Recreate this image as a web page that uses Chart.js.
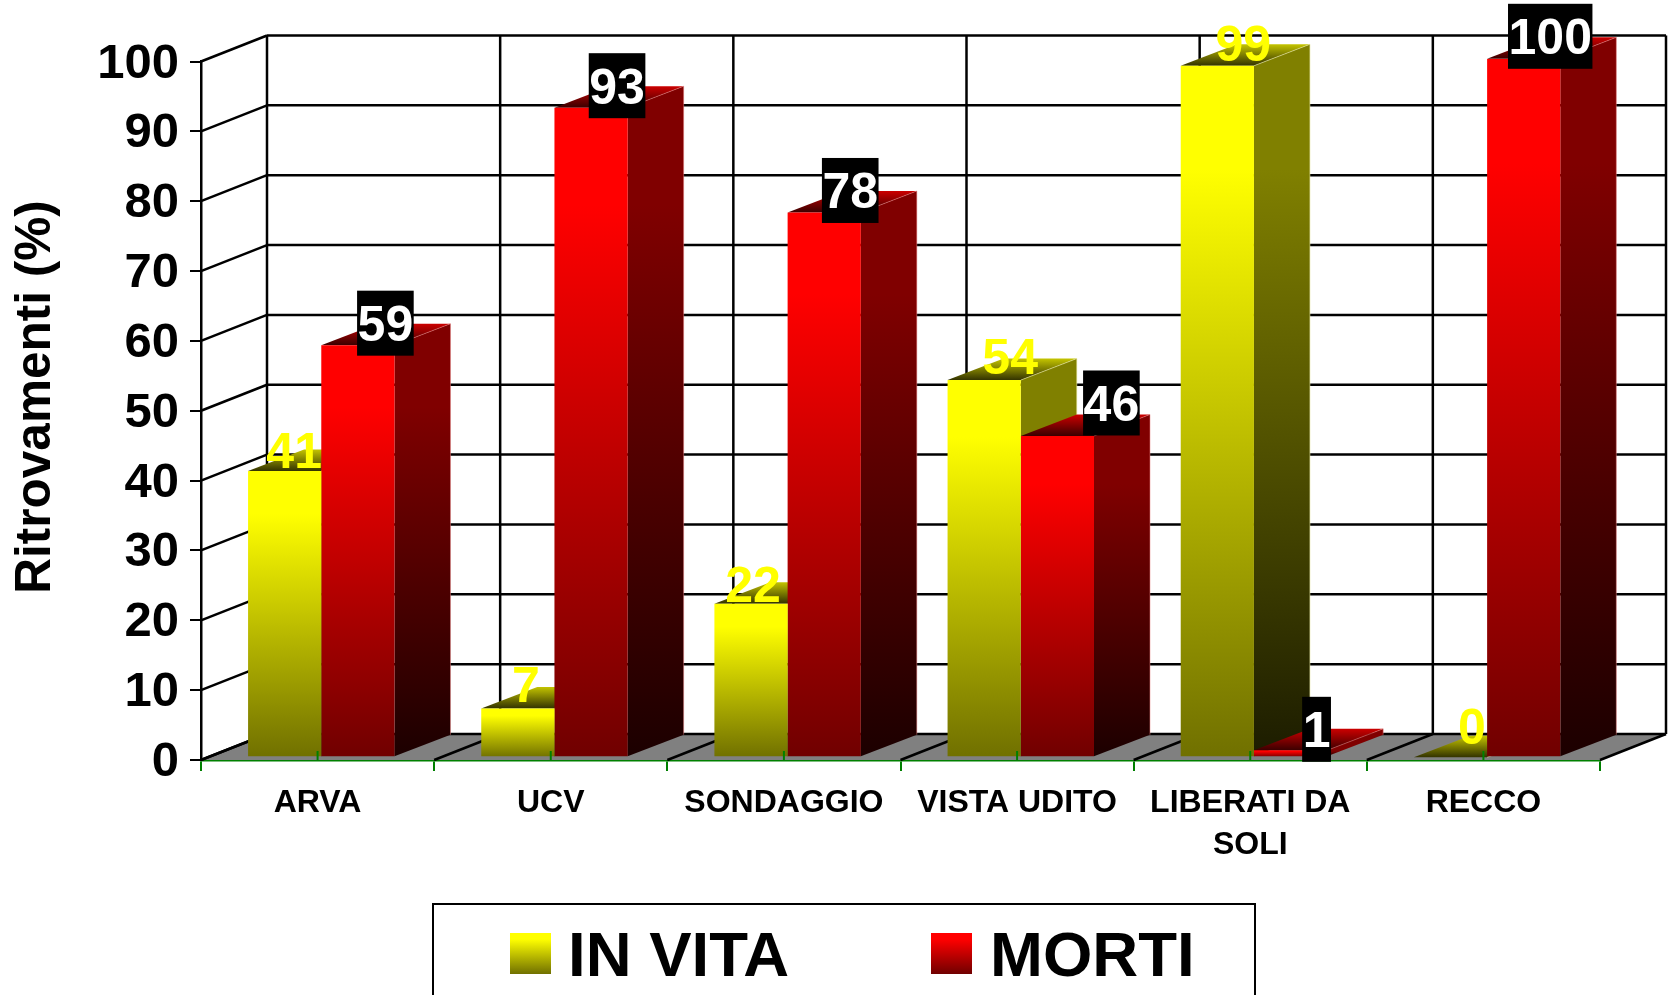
<!DOCTYPE html>
<html lang="it">
<head>
  <meta charset="UTF-8">
  <title>Ritrovamenti</title>
  <script src="https://cdn.jsdelivr.net/npm/chart.js@4.4.0/dist/chart.umd.min.js"></script>
  <style>
    html, body { margin: 0; padding: 0; background: #fff; }
    canvas { display: block; }
  </style>
</head>
<body>
<canvas id="grafico" width="1671" height="995"></canvas>

<script>
  // Dati
  const categorie = ['ARVA', 'UCV', 'SONDAGGIO', 'VISTA UDITO', ['LIBERATI DA', 'SOLI'], 'RECCO'];
  const nomiSerie = ['IN VITA', 'MORTI'];
  const inVita = [41, 7, 22, 54, 99, 0];
  const morti = [59, 93, 78, 46, 1, 100];

  // Spostamento delle etichette rispetto al centro della faccia frontale
  const inVitaEtichettaDx = [9.5, 8, 2, 26, 26, 21.5];
  const inVitaEtichettaDy = [-21, -24, -20, -24, -23, -31.5];
  const mortiEtichettaDx = [27.5, 26, 26, 54, 26, 26.5];
  const mortiEtichettaDy = [-22, -22, -22, -33, -21, -22.5];

  const FONT = '"Liberation Sans", Arial, sans-serif';
  const PARETE_DX = 66, PARETE_DY = 26;   // profondita' delle pareti
  const BARRA_DX = 56, BARRA_DY = 21.5;   // profondita' delle barre
  const SPOSTA_X = 3.7, SPOSTA_Y = -2.7;  // barre staccate dal bordo anteriore

  const colori = [
    { alto: '#ffff00', basso: '#707000', latoAlto: '#808000', latoBasso: '#1c1c00', topDietro: '#c4c400', topDavanti: '#333300', bordo: 'rgba(230,230,160,0.6)' },
    { alto: '#ff0000', basso: '#700000', latoAlto: '#800000', latoBasso: '#1c0000', topDietro: '#cc0000', topDavanti: '#3a0000', bordo: 'rgba(230,130,130,0.5)' }
  ];

  function sfumatura(ctx, y0, y1, c0, c1, fermo) {
    const g = ctx.createLinearGradient(0, y0, 0, y1);
    g.addColorStop(0, c0);
    if (fermo) g.addColorStop(fermo, c0);
    g.addColorStop(1, c1);
    return g;
  }

  function frontale(i) {
    return function (c) {
      if (c.type !== 'data' || !c.chart.chartArea) return colori[i].alto;
      const y = c.chart.scales.y;
      const y0 = y.getPixelForValue(c.raw), y1 = y.getPixelForValue(0);
      if (!isFinite(y0) || !isFinite(y1)) return colori[i].alto;
      return sfumatura(c.chart.ctx, y0, y1, colori[i].alto, colori[i].basso, 0.15);
    };
  }

  function poligono(ctx, punti, riempi) {
    ctx.beginPath();
    punti.forEach((p, i) => i ? ctx.lineTo(p[0], p[1]) : ctx.moveTo(p[0], p[1]));
    ctx.closePath();
    ctx.fillStyle = riempi;
    ctx.fill();
  }

  function linea(ctx, x0, y0, x1, y1) {
    ctx.beginPath();
    ctx.moveTo(x0, y0);
    ctx.lineTo(x1, y1);
    ctx.stroke();
  }

  // Pareti, pavimento e griglia in prospettiva
  const pareti = {
    id: 'pareti',
    beforeDatasetsDraw(chart) {
      const { ctx, scales: { x, y } } = chart;
      const y0 = y.getPixelForValue(0);
      ctx.save();
      poligono(ctx, [[x.left, y0], [x.right, y0], [x.right + PARETE_DX, y0 - PARETE_DY], [x.left + PARETE_DX, y0 - PARETE_DY]], '#808080');
      ctx.strokeStyle = '#000';
      ctx.lineWidth = 2.5;
      y.ticks.forEach(t => {
        const py = y.getPixelForValue(t.value);
        linea(ctx, x.left, py, x.left + PARETE_DX, py - PARETE_DY);
        linea(ctx, x.left + PARETE_DX, py - PARETE_DY, x.right + PARETE_DX, py - PARETE_DY);
      });
      const top = y.getPixelForValue(100);
      for (let i = 0; i <= categorie.length; i++) {
        const px = x.getPixelForValue(i - 0.5);
        linea(ctx, px + PARETE_DX, top - PARETE_DY, px + PARETE_DX, y0 - PARETE_DY);
        linea(ctx, px, y0, px + PARETE_DX, y0 - PARETE_DY);
      }
      ctx.restore();

      // facce laterali e superiori, poi Chart.js disegna quelle frontali
      ctx.save();
      ctx.translate(SPOSTA_X, SPOSTA_Y);
      [0, 1].forEach(d => {
        const col = colori[d];
        chart.getDatasetMeta(d).data.forEach(bar => {
          const xl = bar.x - bar.width / 2, xr = bar.x + bar.width / 2;
          poligono(ctx, [[xr, bar.y], [xr + BARRA_DX, bar.y - BARRA_DY], [xr + BARRA_DX, bar.base - BARRA_DY], [xr, bar.base]],
            sfumatura(ctx, bar.y, bar.base, col.latoAlto, col.latoBasso, 0.15));
          poligono(ctx, [[xl, bar.y], [xr, bar.y], [xr + BARRA_DX, bar.y - BARRA_DY], [xl + BARRA_DX, bar.y - BARRA_DY]],
            sfumatura(ctx, bar.y, bar.y - BARRA_DY, col.topDavanti, col.topDietro));
          // spigolo chiaro della barra
          ctx.strokeStyle = col.bordo;
          ctx.lineWidth = 1;
          ctx.beginPath();
          ctx.moveTo(xr, bar.y);
          ctx.lineTo(xr + BARRA_DX, bar.y - BARRA_DY);
          ctx.lineTo(xr + BARRA_DX, bar.base - BARRA_DY);
          ctx.stroke();
        });
      });
    },
    afterDatasetsDraw(chart) {
      const { ctx } = chart;
      ctx.restore();

      // Etichette dei valori
      ctx.save();
      ctx.font = 'bold 50px ' + FONT;
      ctx.textAlign = 'center';
      ctx.textBaseline = 'alphabetic';
      chart.getDatasetMeta(0).data.forEach((bar, i) => {
        ctx.fillStyle = '#ffff00';
        ctx.fillText(String(inVita[i]), bar.x + SPOSTA_X + inVitaEtichettaDx[i], bar.y + SPOSTA_Y + inVitaEtichettaDy[i] + 18);
      });
      chart.getDatasetMeta(1).data.forEach((bar, i) => {
        const testo = String(morti[i]);
        const cx = bar.x + SPOSTA_X + mortiEtichettaDx[i];
        const cy = bar.y + SPOSTA_Y + mortiEtichettaDy[i];
        const w = ctx.measureText(testo).width + 1;
        ctx.fillStyle = '#000';
        ctx.fillRect(cx - w / 2, cy - 32.5, w, 65);
        ctx.fillStyle = '#fff';
        ctx.fillText(testo, cx, cy + 18);
      });
      ctx.restore();
    },
    afterDraw(chart) {
      const { ctx, scales: { x, y } } = chart;
      // tacche verdi al centro delle categorie
      ctx.save();
      ctx.strokeStyle = '#008000';
      ctx.lineWidth = 2;
      categorie.forEach((c, i) => {
        const px = x.getPixelForValue(i);
        linea(ctx, px, y.bottom - 9, px, y.bottom);
      });

      // titolo dell'asse
      ctx.fillStyle = '#000';
      ctx.font = 'bold 49.5px ' + FONT;
      ctx.textAlign = 'center';
      ctx.textBaseline = 'middle';
      ctx.translate(36, 397);
      ctx.rotate(-Math.PI / 2);
      ctx.fillText('Ritrovamenti (%)', 0, 0);
      ctx.restore();

      // legenda
      ctx.save();
      ctx.strokeStyle = '#000';
      ctx.lineWidth = 2;
      ctx.strokeRect(433, 904, 822, 120);
      ctx.font = 'bold 63.5px ' + FONT;
      ctx.textAlign = 'left';
      ctx.textBaseline = 'alphabetic';
      [[510, 568], [931, 990]].forEach((pos, i) => {
        ctx.fillStyle = sfumatura(ctx, 933, 974, colori[i].alto, colori[i].basso, 0.15);
        ctx.fillRect(pos[0], 933, 41, 41);
        ctx.fillStyle = '#000';
        ctx.fillText(nomiSerie[i], pos[1], 976);
      });
      ctx.restore();
    }
  };

  new Chart(document.getElementById('grafico'), {
    type: 'bar',
    data: {
      labels: categorie,
      datasets: [
        { label: nomiSerie[0], data: inVita, backgroundColor: frontale(0) },
        { label: nomiSerie[1], data: morti, backgroundColor: frontale(1) }
      ]
    },
    options: {
      responsive: false,
      animation: false,
      events: [],
      categoryPercentage: 0.628,
      barPercentage: 1,
      layout: { padding: { top: 61.5, right: 71, left: 0, bottom: 0 } },
      plugins: { legend: { display: false }, tooltip: { enabled: false } },
      scales: {
        x: {
          z: 1,
          afterFit(s) { s.height = 235; },
          grid: { color: '#008000', lineWidth: 2, tickLength: 11, tickColor: '#008000', drawOnChartArea: false },
          border: { color: '#008000', width: 2.5 },
          ticks: {
            color: '#000',
            maxRotation: 0,
            autoSkip: false,
            padding: 11,
            font: { family: FONT, size: 32, weight: 'bold', lineHeight: 1.31 }
          }
        },
        y: {
          min: 0,
          max: 100,
          afterFit(s) { s.width = 201; },
          grid: { color: '#000', lineWidth: 2, tickLength: 11, tickColor: '#000', drawOnChartArea: false },
          border: { color: '#000', width: 2.5 },
          ticks: {
            color: '#000',
            stepSize: 10,
            padding: 11,
            labelOffset: 2.5,
            font: { family: FONT, size: 49, weight: 'bold' }
          }
        }
      }
    },
    plugins: [pareti]
  });
</script>
</body>
</html>
